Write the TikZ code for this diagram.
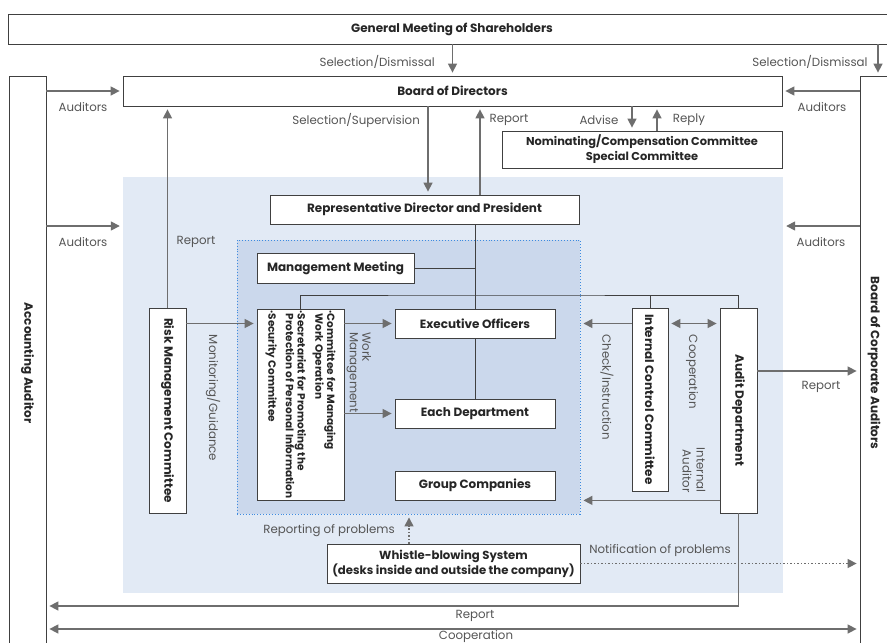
\documentclass[tikz,border=0pt]{standalone}
\usepackage{fontspec}
\setmainfont{Poppins}
\usetikzlibrary{arrows.meta}
\definecolor{linegray}{HTML}{6E6E6E}
\definecolor{boxline}{HTML}{404040}
\definecolor{boxtext}{HTML}{262626}
\definecolor{labelgray}{HTML}{555555}
\definecolor{zoneblue}{HTML}{E2EAF5}
\definecolor{corefill}{HTML}{CBD8EC}
\definecolor{coreline}{HTML}{3D8BE0}
\begin{document}
\begin{tikzpicture}[x=1pt,y=-1pt]
  \tikzstyle{every node}=[inner sep=0pt,font=\fontsize{11.8}{14}\selectfont]
  \tikzstyle{box}=[draw=boxline,line width=0.8pt,fill=white,align=center,text=boxtext,font=\fontsize{12}{14}\selectfont\bfseries]
  \tikzstyle{vbox}=[box,rotate=-90]
  \tikzstyle{lbl}=[text=labelgray]
  \tikzstyle{vlbl}=[lbl,rotate=-90]
  \tikzstyle{arr}=[draw=linegray,line width=1.5pt,shorten >=3pt,-{Triangle[length=9pt,width=9pt]}]
  \tikzstyle{darr}=[arr,shorten <=3pt,{Triangle[length=9pt,width=9pt]}-{Triangle[length=9pt,width=9pt]}]
  \tikzstyle{tree}=[draw=boxline,line width=0.8pt]

  \useasboundingbox (0,0) rectangle (887,643);
  \clip (0,0) rectangle (887,643);

  \node[fill=zoneblue,minimum width=660pt,minimum height=416pt] (zone) at (453,385) {};
  \node[fill=corefill,draw=coreline,dotted,line width=0.9pt,minimum width=343pt,minimum height=274pt] (core) at (408.5,377) {};

  \node[box,minimum width=888pt,minimum height=30pt] (gms) at (452,29) {General Meeting of Shareholders};
  \node[box,minimum width=659pt,minimum height=30pt] (bod) at (452.5,91) {Board of Directors};
  \node[box,minimum width=280pt,minimum height=37pt,font=\fontsize{11.4}{15}\selectfont\bfseries] (nom) at (642,149.5) {Nominating/Compensation Committee\\Special Committee};
  \node[vbox,minimum width=574pt,minimum height=37pt] (acc) at (27.5,363) {Accounting Auditor};
  \node[vbox,minimum width=574pt,minimum height=28pt] (bca) at (874,363) {Board of Corporate Auditors};
  \node[box,minimum width=309pt,minimum height=29pt] (rep) at (424.5,209.5) {Representative Director and President};
  \node[box,minimum width=157pt,minimum height=30pt] (mgmt) at (335.5,268) {Management Meeting};
  \node[vbox,minimum width=205pt,minimum height=37pt] (risk) at (167.5,410.5) {Risk Management Committee};
  \node[vbox,align=left,minimum width=191pt,minimum height=87pt,font=\fontsize{10.5}{11.7}\selectfont\bfseries] (cmt) at (300.5,404.5)
    {·Committee for Managing\\\phantom{·}Work Operation\\[6pt]·Secretariat for Promoting the\\\phantom{·}Protection of Personal Information\\[6pt]·Security Committee};
  \node[box,minimum width=160pt,minimum height=29pt] (exec) at (475,323.5) {Executive Officers};
  \node[box,minimum width=160pt,minimum height=29pt] (dept) at (475,413.5) {Each Department};
  \node[box,minimum width=160pt,minimum height=29pt] (grp) at (475,485.5) {Group Companies};
  \node[vbox,minimum width=183pt,minimum height=36pt] (icc) at (650,399.5) {Internal Control Committee};
  \node[vbox,minimum width=205pt,minimum height=37pt] (audit) at (738.5,410.5) {Audit Department};
  \node[box,minimum width=253pt,minimum height=39pt,font=\fontsize{11.7}{15}\selectfont\bfseries] (wb) at (453.5,563.5) {Whistle-blowing System\\(desks inside and outside the company)};

  \node[lbl,anchor=east] (seldis) at (435,62) {Selection/Dismissal};
  \node[lbl] (seldisr) at (810,62) {Selection/Dismissal};
  \node[lbl] (audtl) at (83,107) {Auditors};
  \node[lbl] (audtr) at (822,107) {Auditors};
  \node[lbl] (audbl) at (83,242) {Auditors};
  \node[lbl] (audbr) at (821,242) {Auditors};
  \node[lbl,anchor=east] (selsup) at (420,120) {Selection/Supervision};
  \node[lbl] (reptop) at (509,120) {Report};
  \node[lbl] (advise) at (599,120) {Advise};
  \node[lbl] (reply) at (689,120) {Reply};
  \node[lbl] (reprisk) at (196,242) {Report};
  \node[vlbl] (monit) at (213,398) {Monitoring/Guidance};
  \node[vlbl,align=left,anchor=west,font=\fontsize{11.8}{12.5}\selectfont] (workm) at (359,332) {Work\\Management};
  \node[vlbl] (check) at (607,387) {Check/Instruction};
  \node[vlbl] (coopv) at (692,372) {Cooperation};
  \node[vlbl,align=right] (intaud) at (694,470) {Internal\\Auditor};
  \node[lbl] (repbca) at (821,387) {Report};
  \node[lbl] (repprob) at (329,531) {Reporting of problems};
  \node[lbl] (notprob) at (660,551) {Notification of problems};
  \node[lbl] (repbot) at (475,616) {Report};
  \node[lbl] (coopbot) at (476,637) {Cooperation};

  \coordinate (bus) at (474,295);
  \coordinate (lowaud) at (0,226);
  \coordinate (bcarep) at (0,371);
  \coordinate (botrep) at (0,606);
  \coordinate (botcoop) at (0,629);
  \coordinate (sdx) at ([xshift=4pt]bca.west);
  \coordinate (selx) at ([xshift=3.5pt]rep.north);
  \coordinate (repx) at ([xshift=55.5pt]rep.north);
  \coordinate (advx) at ([xshift=-10pt]nom.north);
  \coordinate (rplx) at ([xshift=15pt]nom.north);
  \coordinate (wbx) at ([xshift=-44.5pt]wb.north);

  \draw[tree] (exec.north |- rep.south) -- (exec.north);
  \draw[tree] (exec.south) -- (dept.north);
  \draw[tree] (mgmt.east) -- (mgmt.east -| exec.north);
  \draw[tree] (cmt.west) |- (bus) -| (audit.west);
  \draw[tree] (icc.west) -- (icc.west |- bus);

  \draw[arr] (gms.south -| bod.north) -- (bod.north);
  \draw[arr] (sdx |- gms.south) -- (sdx);
  \draw[arr] (acc.north |- bod.west) -- (bod.west);
  \draw[arr] (bca.south |- bod.east) -- (bod.east);
  \draw[arr] (acc.north |- lowaud) -- (zone.west |- lowaud);
  \draw[arr] (bca.south |- lowaud) -- (zone.east |- lowaud);
  \draw[arr] (selx |- bod.south) -- (selx);
  \draw[arr] (repx) -- (repx |- bod.south);
  \draw[arr] (advx |- bod.south) -- (advx);
  \draw[arr] (rplx) -- (rplx |- bod.south);
  \draw[arr] (risk.west) -- (risk.west |- bod.south);
  \draw[arr] (risk.north |- exec.west) -- (cmt.south |- exec.west);
  \draw[arr] (cmt.north |- exec.west) -- (exec.west);
  \draw[arr] (cmt.north |- dept.west) -- (dept.west);
  \draw[arr] (icc.south |- exec.east) -- (core.east |- exec.east);
  \draw[darr] (icc.north |- exec.east) -- (audit.south |- exec.east);
  \draw[arr] (audit.north |- bcarep) -- (bca.south |- bcarep);
  \draw[arr] (audit.south |- grp.south) -- (core.east |- grp.south);
  \draw[arr,dotted] (wbx) -- (wbx |- core.south);
  \draw[arr,dotted] (wb.east) -- (bca.south |- wb.east);
  \draw[arr] (audit.east) |- (acc.north |- botrep);
  \draw[darr] (acc.north |- botcoop) -- (bca.south |- botcoop);
\end{tikzpicture}
\end{document}
